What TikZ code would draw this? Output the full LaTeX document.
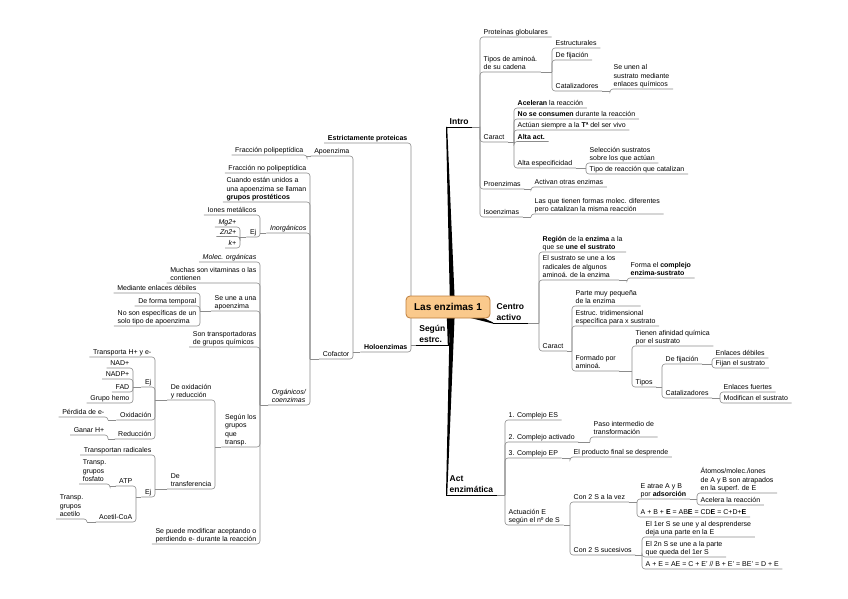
\documentclass[tikz,border=0pt]{standalone}
\usepackage{fontspec}
\setmainfont{Liberation Sans}
\usetikzlibrary{calc}
\definecolor{rootfill}{RGB}{250,201,140}
\definecolor{rootdraw}{RGB}{190,125,60}
\tikzset{
  topic/.style={inner xsep=3.5pt, inner ysep=1pt, text depth=1pt, align=left,
                font=\fontsize{7}{8.6}\selectfont},
  tr/.style={topic, anchor=south west},
  tl/.style={topic, anchor=south east},
  mainr/.style={tr, font=\fontsize{8.5}{11}\selectfont\bfseries},
  mainl/.style={tl, font=\fontsize{8.5}{11}\selectfont\bfseries},
  conn/.style={draw=black!45, line width=0.6pt},
  mainline/.style={draw=black, line width=0.9pt},
  wedge/.style={fill=black},
  rootbox/.style={draw=rootdraw, fill=rootfill, rounded corners=4pt, line width=0.8pt,
                  minimum width=84pt, minimum height=22pt,
                  font=\fontsize{10}{12}\selectfont\bfseries},
}
% link to a child on the right / on the left
\newcommand{\linkr}[2]{%
  \draw[conn] (#1.south east) -- (#1.south east -| #2.south west);
  \draw[conn, rounded corners=3pt] (#1.south east -| #2.south west) -- (#2.south west) -- (#2.south east);}
\newcommand{\linkl}[2]{%
  \draw[conn] (#1.south west) -- (#1.south west -| #2.south east);
  \draw[conn, rounded corners=3pt] (#1.south west -| #2.south east) -- (#2.south east) -- (#2.south west);}

\begin{document}
\begin{tikzpicture}[x=1pt, y=-1pt]
  \path[fill=white, use as bounding box] (0,0) rectangle (848,599);

  % Intro
  \node[mainr] (intro) at (446,127) {Intro};
  \node[tr] (prot) at (480,37) {Proteínas globulares};
  \node[tr] (tipos) at (480,72) {Tipos de aminoá.\\de su cadena};
  \node[tr] (estr) at (552,48) {Estructurales};
  \node[tr] (defij) at (552,60) {De fijación};
  \node[tr] (catal) at (552,91) {Catalizadores};
  \node[tr] (seunen) at (610,89) {Se unen al\\sustrato mediante\\enlaces químicos};
  \node[tr] (caract) at (480,142) {Caract};
  \node[tr] (acel) at (514,108) {\textbf{Aceleran} la reacción};
  \node[tr] (nocons) at (514,119) {\textbf{No se consumen} durante la reacción};
  \node[tr] (actuan) at (514,130) {Actúan siempre a la \textbf{Tª} del ser vivo};
  \node[tr] (alta) at (514,141.5) {\textbf{Alta act.}};
  \node[tr] (altaesp) at (514,168) {Alta especificidad};
  \node[tr] (selec) at (586,163) {Selección sustratos\\sobre los que actúan};
  \node[tr] (tiporeac) at (586,174) {Tipo de reacción que catalizan};
  \node[tr] (proenz) at (480,189) {Proenzimas};
  \node[tr] (activan) at (531,187) {Activan otras enzimas};
  \node[tr] (isoenz) at (480,217) {Isoenzimas};
  \node[tr] (lasque) at (531,214) {Las que tienen formas molec. diferentes\\pero catalizan la misma reacción};

  % Centro activo
  \node[mainr] (centro) at (493,323) {Centro\\activo};
  \node[tr] (region) at (539,252) {\textbf{Región} de la \textbf{enzima} a la\\que se \textbf{une el sustrato}};
  \node[tr] (elsust) at (539,280) {El sustrato se une a los\\radicales de algunos\\aminoá. de la enzima};
  \node[tr] (forma) at (627,278) {Forma el \textbf{complejo}\\\textbf{enzima-sustrato}};
  \node[tr] (ccaract) at (539,351) {Caract};
  \node[tr] (parte) at (572,306) {Parte muy pequeña\\de la enzima};
  \node[tr] (estruc) at (572,326) {Estruc. tridimensional\\específica para x sustrato};
  \node[tr] (formado) at (572,371) {Formado por\\aminoá.};
  \node[tr] (afin) at (632,346) {Tienen afinidad química\\por el sustrato};
  \node[tr] (tipos2) at (632,387) {Tipos};
  \node[tr] (fij2) at (662,364) {De fijación};
  \node[tr] (cat2) at (662,398) {Catalizadores};
  \node[tr] (debil) at (712,358) {Enlaces débiles};
  \node[tr] (fijan) at (712,368) {Fijan el sustrato};
  \node[tr] (fuert) at (720,392) {Enlaces fuertes};
  \node[tr] (modif) at (720,403) {Modifican el sustrato};

  % Act enzimatica
  \node[mainr] (act) at (446,495) {Act\\enzimática};
  \node[tr] (c1) at (505,420) {1. Complejo ES};
  \node[tr] (c2) at (505,442) {2. Complejo activado};
  \node[tr] (paso) at (590,437) {Paso intermedio de\\transformación};
  \node[tr] (c3) at (505,458) {3. Complejo EP};
  \node[tr] (prod) at (570,457) {El producto final se desprende};
  \node[tr] (actuac) at (505,525) {Actuación E\\según el nº de S};
  \node[tr] (vez) at (570,502) {Con 2 S a la vez};
  \node[tr] (atrae) at (637,499) {E atrae A y B\\por \textbf{adsorción}};
  \node[tr] (atomos) at (697,493) {Átomos/molec./iones\\de A y B son atrapados\\en la superf. de E};
  \node[tr] (acelera) at (697,505) {Acelera la reacción};
  \node[tr] (abe) at (637,517) {A + B + \textbf{E} = AB\textbf{E} = CD\textbf{E} = C+D+\textbf{E}};
  \node[tr] (suces) at (570,555) {Con 2 S sucesivos};
  \node[tr] (ler) at (642,537) {El 1er S se une y al desprenderse\\deja una parte en la E};
  \node[tr] (el2n) at (642,557) {El 2n S se une a la parte\\que queda del 1er S};
  \node[tr] (ae) at (642,569) {A + E = AE = C + E' // B + E' = BE' = D + E};

  % Segun estructura
  \node[mainl] (segun) at (449,345) {Según\\estrc.};
  \node[tl] (estric) at (411,143) {\textbf{Estrictamente proteicas}};
  \node[tl] (holo) at (411,352) {\textbf{Holoenzimas}};
  \node[tl] (apoenz) at (353,156) {Apoenzima};
  \node[tl] (fracpoli) at (307,155) {Fracción polipeptídica};
  \node[tl] (cofac) at (353,359) {Cofactor};
  \node[tl] (fracno) at (310,173) {Fracción no polipeptídica};
  \node[tl] (cuando) at (310,202) {Cuando están unidos a\\una apoenzima se llaman\\\textbf{grupos prostéticos}};
  \node[tl] (inorg) at (310,233) {\textit{Inorgánicos}};
  \node[tl] (iones) at (260,215) {Iones metálicos};
  \node[tl] (ej1) at (260,237) {Ej};
  \node[tl] (mg) at (240,227) {\textit{Mg2+}};
  \node[tl] (zn) at (240,236.5) {\textit{Zn2+}};
  \node[tl] (kp) at (240,248) {\textit{k+}};
  \node[tl] (org) at (310,405) {\textit{Orgánicos/}\\\textit{coenzimas}};
  \node[tl] (molec) at (260,262) {\textit{Molec. orgánicas}};
  \node[tl] (muchas) at (260,283) {Muchas son vitaminas o las\\contienen};
  \node[tl] (seune) at (260,311) {Se une a una\\apoenzima};
  \node[tl] (mediante) at (200,293) {Mediante enlaces débiles};
  \node[tl] (temporal) at (200,306) {De forma temporal};
  \node[tl] (noson) at (200,326) {No son específicas de un\\solo tipo de apoenzima};
  \node[tl] (sontrans) at (260,347) {Son transportadoras\\de grupos químicos};
  \node[tl] (segungr) at (260,447) {Según los\\grupos\\que\\transp.};
  \node[tl] (oxid) at (215,400) {De oxidación\\y reducción};
  \node[tl] (transH) at (155,357) {Transporta H+ y e-};
  \node[tl] (ej2) at (155,387) {Ej};
  \node[tl] (nad) at (133,368) {NAD+};
  \node[tl] (nadp) at (133,379) {NADP+};
  \node[tl] (fad) at (133,392) {FAD};
  \node[tl] (hemo) at (133,403) {Grupo hemo};
  \node[tl] (oxida) at (155,420) {Oxidación};
  \node[tl] (perd) at (108,417) {Pérdida de e-};
  \node[tl] (reduc) at (155,439) {Reducción};
  \node[tl] (ganar) at (108,435) {Ganar H+};
  \node[tl] (transf) at (215,489) {De\\transferencia};
  \node[tl] (transrad) at (155,455) {Transportan radicales};
  \node[tl] (ej3) at (155,497) {Ej};
  \node[tl] (atp) at (136,486) {ATP};
  \node[tl] (fosf) at (110,484) {Transp.\\grupos\\fosfato};
  \node[tl] (acetil) at (136,522) {Acetil-CoA};
  \node[tl] (acetilo) at (87,519) {Transp.\\grupos\\acetilo};
  \node[tl] (sepuede) at (260,544) {Se puede modificar aceptando o\\perdiendo e- durante la reacción};

  % connectors
  \foreach \src/\dst in {intro/prot, intro/tipos, intro/caract, intro/proenz, intro/isoenz,
      tipos/estr, tipos/defij, tipos/catal, catal/seunen,
      caract/acel, caract/nocons, caract/actuan, caract/alta, caract/altaesp,
      altaesp/selec, altaesp/tiporeac, proenz/activan, isoenz/lasque,
      centro/region, centro/elsust, centro/ccaract, elsust/forma,
      ccaract/parte, ccaract/estruc, ccaract/formado, formado/afin, formado/tipos2,
      tipos2/fij2, tipos2/cat2, fij2/debil, fij2/fijan, cat2/fuert, cat2/modif,
      act/c1, act/c2, act/c3, act/actuac, c2/paso, c3/prod,
      actuac/vez, actuac/suces, vez/atrae, vez/abe, atrae/atomos, atrae/acelera,
      suces/ler, suces/el2n, suces/ae}
    {\linkr{\src}{\dst}}
  \foreach \src/\dst in {segun/estric, segun/holo, holo/apoenz, holo/cofac, apoenz/fracpoli,
      cofac/fracno, cofac/cuando, cofac/inorg, cofac/org,
      inorg/iones, inorg/ej1, ej1/mg, ej1/zn, ej1/kp,
      org/molec, org/muchas, org/seune, org/sontrans, org/segungr, org/sepuede,
      seune/mediante, seune/temporal, seune/noson,
      segungr/oxid, segungr/transf,
      oxid/transH, oxid/ej2, oxid/oxida, oxid/reduc,
      ej2/nad, ej2/nadp, ej2/fad, ej2/hemo, oxida/perd, reduc/ganar,
      transf/transrad, transf/ej3, ej3/atp, ej3/acetil, atp/fosf, acetil/acetilo}
    {\linkl{\src}{\dst}}

  % main branches
  \foreach \m in {intro, centro, act}
    \draw[mainline] (\m.south west) -- (\m.south east);
  \draw[mainline] (segun.south east) -- (segun.south west);
  \coordinate (hub) at (452.5,307);
  \fill[wedge] ($(hub)+(-2.5,0)$) -- ($(hub)+(2.5,0)$) -- ($(intro.south west)+(1.2,0)$) -- (intro.south west) -- cycle;
  \fill[wedge] ($(hub)+(-2.5,0)$) -- ($(hub)+(2.5,0)$) -- ($(act.south west)+(1.2,0)$) -- (act.south west) -- cycle;
  \fill[wedge] ($(hub)+(-6,0)$) -- ($(hub)+(-1,0)$) -- (segun.south east) -- ($(segun.south east)+(-1.2,0)$) -- cycle;
  \fill[wedge] ($(hub)+(14,3)$) -- ($(hub)+(14,10)$) -- ($(centro.south west)+(0,0.6)$) -- ($(centro.south west)+(0,-0.6)$) -- cycle;
  \node[rootbox] (root) at (448,307) {Las enzimas 1};
\end{tikzpicture}
\end{document}
